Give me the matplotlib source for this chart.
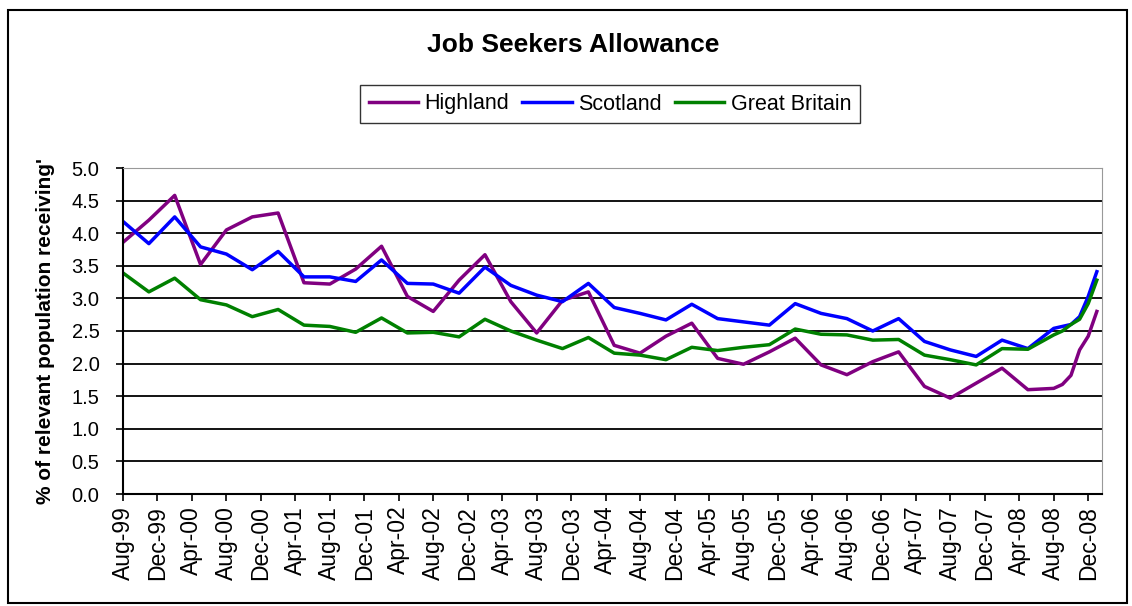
import matplotlib.pyplot as plt
import pandas as pd

# quarterly readings, then monthly at the end of 2008
dates = ['1999-08', '1999-11', '2000-02', '2000-05', '2000-08', '2000-11',
         '2001-02', '2001-05', '2001-08', '2001-11', '2002-02', '2002-05',
         '2002-08', '2002-11', '2003-02', '2003-05', '2003-08', '2003-11',
         '2004-02', '2004-05', '2004-08', '2004-11', '2005-02', '2005-05',
         '2005-08', '2005-11', '2006-02', '2006-05', '2006-08', '2006-11',
         '2007-02', '2007-05', '2007-08', '2007-11', '2008-02', '2008-05',
         '2008-08', '2008-09', '2008-10', '2008-11', '2008-12', '2009-01']

highland = [3.86, 4.20, 4.58, 3.52, 4.05, 4.25, 4.31, 3.24, 3.22, 3.45,
            3.80, 3.03, 2.80, 3.28, 3.67, 2.95, 2.47, 2.97, 3.10, 2.28,
            2.16, 2.42, 2.62, 2.08, 1.99, 2.18, 2.39, 1.98, 1.83, 2.03,
            2.18, 1.65, 1.47, 1.70, 1.93, 1.60, 1.62, 1.68, 1.82, 2.21,
            2.42, 2.80]
scotland = [4.18, 3.84, 4.25, 3.79, 3.68, 3.44, 3.72, 3.33, 3.33, 3.26,
            3.59, 3.23, 3.22, 3.08, 3.48, 3.20, 3.05, 2.95, 3.23, 2.86,
            2.77, 2.67, 2.91, 2.69, 2.64, 2.59, 2.92, 2.77, 2.69, 2.50,
            2.69, 2.34, 2.21, 2.11, 2.36, 2.23, 2.54, 2.57, 2.60, 2.72,
            3.03, 3.41]
great_britain = [3.39, 3.10, 3.31, 2.98, 2.90, 2.72, 2.83, 2.59, 2.57, 2.48,
                 2.70, 2.47, 2.48, 2.41, 2.68, 2.50, 2.36, 2.23, 2.40, 2.16,
                 2.13, 2.06, 2.25, 2.20, 2.25, 2.29, 2.53, 2.45, 2.44, 2.36,
                 2.37, 2.13, 2.06, 1.98, 2.23, 2.22, 2.44, 2.50, 2.60, 2.68,
                 2.92, 3.28]

tick_labels = ['Aug-99', 'Dec-99', 'Apr-00', 'Aug-00', 'Dec-00', 'Apr-01',
               'Aug-01', 'Dec-01', 'Apr-02', 'Aug-02', 'Dec-02', 'Apr-03',
               'Aug-03', 'Dec-03', 'Apr-04', 'Aug-04', 'Dec-04', 'Apr-05',
               'Aug-05', 'Dec-05', 'Apr-06', 'Aug-06', 'Dec-06', 'Apr-07',
               'Aug-07', 'Dec-07', 'Apr-08', 'Aug-08', 'Dec-08']


def month_index(d):
    return (d.year - 1999) * 12 + d.month - 8


x = [month_index(d) for d in pd.to_datetime(dates)]
ticks = [month_index(d) for d in pd.to_datetime(tick_labels, format='%b-%y')]

plt.rcParams['font.family'] = ['Liberation Sans', 'DejaVu Sans']

fig = plt.figure(figsize=(11.32, 6.06), dpi=100)
ax = fig.add_axes([123 / 1132, 1 - 494 / 606, (1102 - 123) / 1132, (494 - 168) / 606])

ax.plot(x, highland, color='#800080', lw=2.5, label='Highland')
ax.plot(x, scotland, color='#0000ff', lw=2.5, label='Scotland')
ax.plot(x, great_britain, color='#008000', lw=2.5, label='Great Britain')

ax.set_xlim(0, 113.6)
ax.set_ylim(0, 5)
ax.set_yticks([i * 0.5 for i in range(11)])
ax.set_yticklabels(['%.1f' % (i * 0.5) for i in range(11)], fontsize=14.5)
ax.set_xticks(ticks)
ax.set_xticklabels(tick_labels, rotation=90, fontsize=16.5)
ax.tick_params(direction='out', length=5, width=1.2, colors='black')
ax.tick_params(axis='y', pad=12)
ax.grid(axis='y', color='black', lw=1.3)
ax.set_axisbelow(True)

for side in ['top', 'right']:
    ax.spines[side].set_color('#999999')
for side in ['left', 'bottom']:
    ax.spines[side].set_linewidth(1.5)

ax.set_ylabel("% of relevant population receiving'", fontsize=15, fontweight='bold', labelpad=12)

fig.text(573 / 1132, 1 - 45 / 606, 'Job Seekers Allowance', fontsize=19,
         fontweight='bold', ha='center', va='center')

fig.legend(loc='center', bbox_to_anchor=(610 / 1132, 1 - 104 / 606), ncol=3,
           fontsize=15.5, frameon=True, fancybox=False, edgecolor='black',
           handlelength=2.3, columnspacing=0.6, handletextpad=0.3,
           borderpad=0.4)

fig.add_artist(plt.Rectangle((8 / 1132, 3 / 606), 1119 / 1132, 593 / 606,
                             fill=False, edgecolor='black', lw=1.5,
                             transform=fig.transFigure))

fig.savefig('out.png', dpi=100)
